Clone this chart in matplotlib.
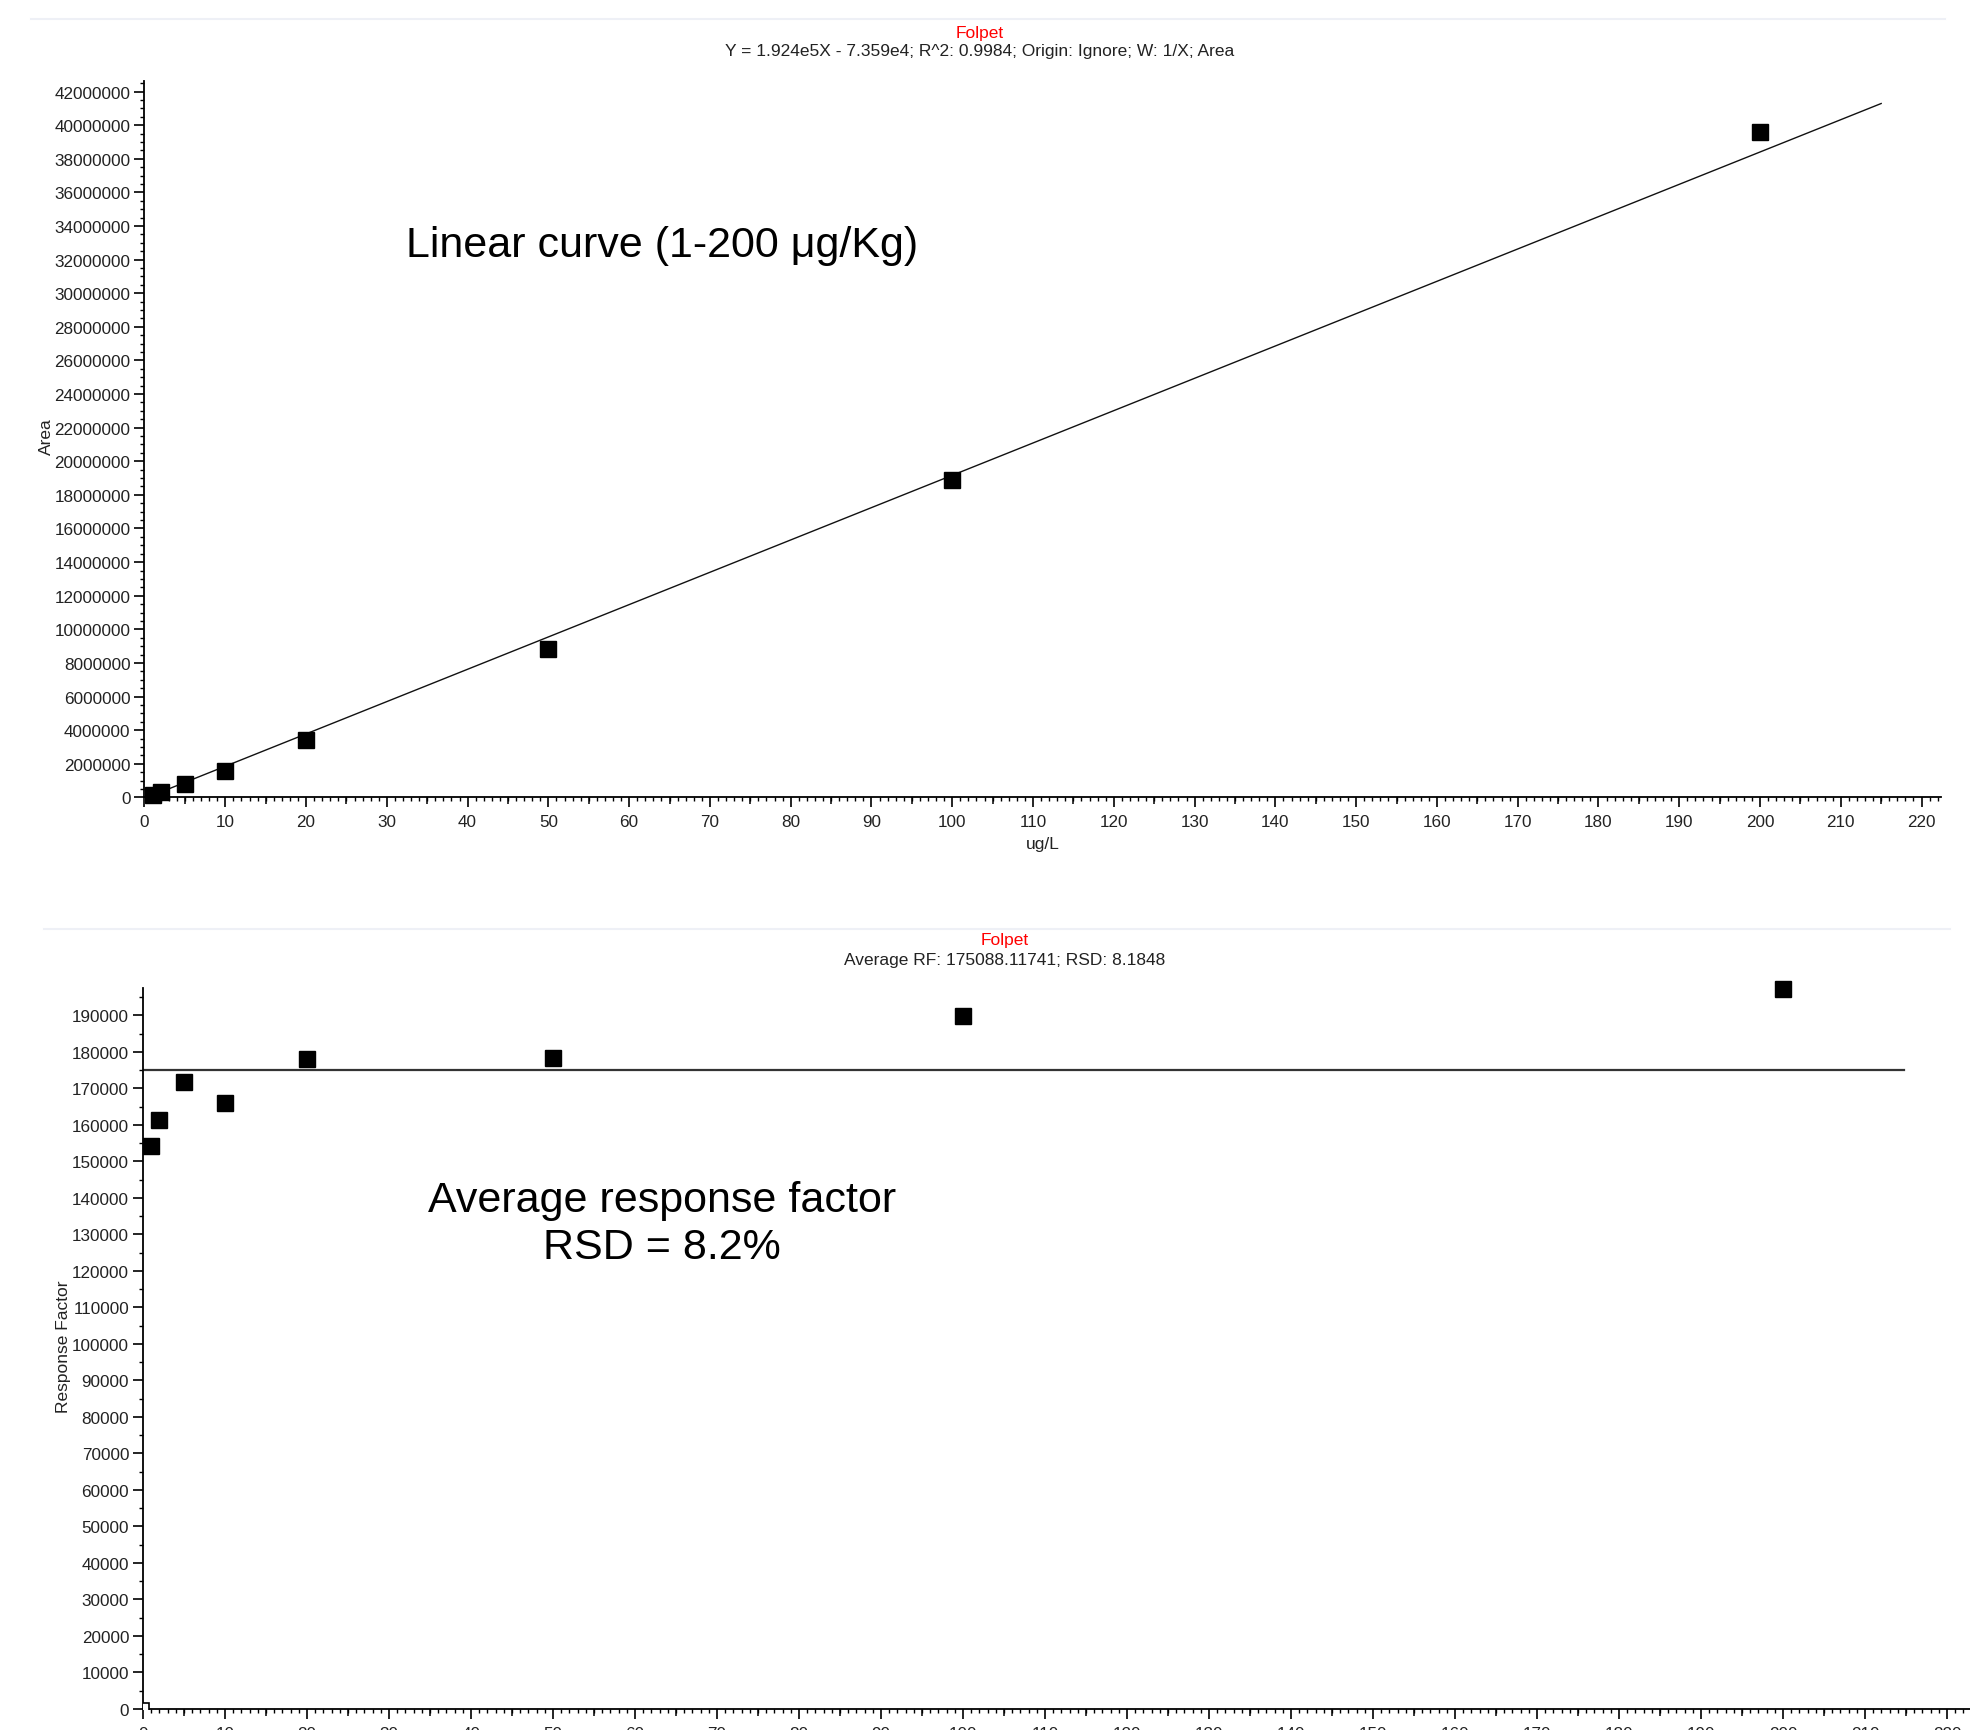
import numpy as np
import matplotlib
matplotlib.use("Agg")
import matplotlib.pyplot as plt
from matplotlib.ticker import MultipleLocator, NullFormatter
from matplotlib.lines import Line2D

plt.rcParams['font.family'] = ['Liberation Sans', 'DejaVu Sans']

# ---- data ----
conc = [1, 2, 5, 10, 20, 50, 100, 200]                      # ug/L
area = [0.14e6, 0.30e6, 0.79e6, 1.58e6, 3.43e6, 8.83e6, 18.89e6, 39.58e6]
rf = [154200, 161400, 171800, 166000, 178000, 178300, 189700, 197300]
blank_x = [0]
blank_rf = [0]
slope, intercept = 1.924e5, -7.359e4
fit_x = [0, 215]
avg_rf = 175088.11741
avg_x = [0, 214.7]

TICK_COL = "#222222"
SMALL = 12.5


def style_axes(ax, xmax, ymax, ymaj, ymin_step):
    for sp_ in ("top", "right"):
        ax.spines[sp_].set_visible(False)
    ax.spines["left"].set_linewidth(1.3)
    ax.spines["bottom"].set_linewidth(1.3)
    ax.set_xlim(0, xmax)
    ax.set_ylim(0, ymax)
    ax.xaxis.set_major_locator(MultipleLocator(10))
    ax.xaxis.set_minor_locator(MultipleLocator(1))
    ax.yaxis.set_major_locator(MultipleLocator(ymaj))
    ax.yaxis.set_minor_locator(MultipleLocator(ymin_step))
    ax.tick_params(which="major", length=7, width=1.2, labelsize=12.3,
                   labelcolor=TICK_COL, pad=3)
    ax.tick_params(which="minor", length=3, width=1.0)
    ax.tick_params(axis="x", which="major", pad=5)
    ax.ticklabel_format(style="plain", useOffset=False)
    # medium ticks every 5
    sec = ax.secondary_xaxis("bottom")
    sec.set_xticks(np.arange(5, xmax, 10))
    sec.xaxis.set_major_formatter(NullFormatter())
    sec.tick_params(length=5, width=1.1)
    sec.spines["bottom"].set_visible(False)


fig = plt.figure(figsize=(19.7, 17.31), dpi=100)

# ================= top: linear curve
ax = fig.add_axes([0.07335, 0.5388, 0.9119, 0.4140])
style_axes(ax, 222.4, 42.65e6, 2e6, 5e5)
fx = np.array(fit_x, dtype=float)
ax.plot(fx, slope * fx + intercept, color="#111111", lw=1.0)
ax.plot(conc, area, "s", ms=11, color="black", clip_on=False, zorder=5)

# ================= bottom: response factor
axb = fig.add_axes([0.0726, 0.01213, 0.9274, 0.4163])
style_axes(axb, 222.8, 197400, 10000, 5000)
axb.plot(avg_x, [avg_rf, avg_rf], color="#333333", lw=1.6)
axb.plot(conc, rf, "s", ms=11, color="black", clip_on=False, zorder=5)
axb.plot(blank_x, blank_rf, "s", ms=8, mfc="white", mec="black", mew=1.2,
         clip_on=True, zorder=4)

# ---- texts ----
fig.text(0.4975, 0.9809, "Folpet", color="red", fontsize=SMALL, ha="center", va="center")
fig.text(0.4975, 0.9700, "Y = 1.924e5X - 7.359e4; R^2: 0.9984; Origin: Ignore; W: 1/X; Area",
         fontsize=SMALL, color=TICK_COL, ha="center", va="center")
fig.text(0.336, 0.8579, "Linear curve (1-200 μg/Kg)", fontsize=31, ha="center", va="center")
fig.text(0.5294, 0.5124, "ug/L", fontsize=SMALL, color=TICK_COL, ha="center", va="center")
fig.text(0.0236, 0.7475, "Area", fontsize=SMALL, color=TICK_COL, rotation=90,
         ha="center", va="center")

fig.text(0.510, 0.4564, "Folpet", color="red", fontsize=SMALL, ha="center", va="center")
fig.text(0.510, 0.4454, "Average RF: 175088.11741; RSD: 8.1848",
         fontsize=SMALL, color=TICK_COL, ha="center", va="center")
fig.text(0.336, 0.2926, "Average response factor\nRSD = 8.2%", fontsize=31,
         ha="center", va="center", linespacing=1.2)
fig.text(0.032, 0.2218, "Response Factor", fontsize=SMALL, color=TICK_COL, rotation=90,
         ha="center", va="center")

# faint separators
fig.add_artist(Line2D([31 / 1970, 1945 / 1970], [1 - 20 / 1731] * 2, color="#eef0f6", lw=1.5))
fig.add_artist(Line2D([44 / 1970, 1950 / 1970], [1 - 930 / 1731] * 2, color="#eef0f6", lw=1.5))

fig.savefig("out.png", dpi=100)
